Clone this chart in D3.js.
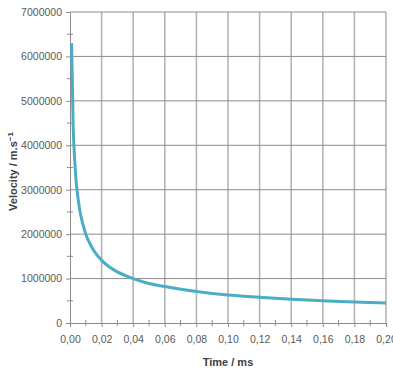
<!DOCTYPE html>
<html>
<head>
<meta charset="utf-8">
<script src="https://cdn.jsdelivr.net/npm/d3@7"></script>
<style>
body { margin: 0; background: #fff; }
#vis { width: 393px; height: 370px; }
text { font-family: "Liberation Sans", Arial, sans-serif; }
</style>
</head>
<body>
<div id="vis"></div>
<script>
var width = 393;
var height = 370;

var margin = {
    top: 12,
    bottom: 47,
    left: 70,
    right: 7
}

// time (ms) and velocity (m/s)
var time = [0.001, 0.002, 0.003, 0.004, 0.005, 0.006, 0.008, 0.010, 0.012, 0.015,
    0.020, 0.025, 0.030, 0.040, 0.050, 0.060, 0.080, 0.100, 0.120, 0.140, 0.160, 0.180, 0.200];
var velocity = [6300000, 4450000, 3650000, 3150000, 2830000, 2580000, 2240000, 2000000, 1830000, 1630000,
    1410000, 1260000, 1150000, 1000000, 890000, 820000, 710000, 630000, 580000, 535000, 500000, 470000, 450000];

var x_ticks = [0, 0.02, 0.04, 0.06, 0.08, 0.10, 0.12, 0.14, 0.16, 0.18, 0.20];
var y_ticks = [0, 1000000, 2000000, 3000000, 4000000, 5000000, 6000000, 7000000];

var svg = d3.select('#vis')
    .append('svg')
    .attr('width', width)
    .attr('height', height)
    .append('g')
    .attr('transform', 'translate(' + margin.left + ',' + margin.top + ')');

width = width - margin.left - margin.right;
height = height - margin.top - margin.bottom;

var x_scale = d3.scaleLinear()
    .domain([0, 0.2])
    .range([0, width]);

var y_scale = d3.scaleLinear()
    .domain([0, 7000000])
    .range([height, 0]);

// grid
svg.append('g')
    .selectAll('line')
    .data(x_ticks.slice(1))
    .enter()
    .append('line')
    .attr('x1', function (d) { return x_scale(d); })
    .attr('x2', function (d) { return x_scale(d); })
    .attr('y1', 0)
    .attr('y2', height)
    .attr('stroke', '#b4b4b4')
    .attr('stroke-width', 1.6);

svg.append('g')
    .selectAll('line')
    .data(y_ticks.slice(1))
    .enter()
    .append('line')
    .attr('x1', 0)
    .attr('x2', width)
    .attr('y1', function (d) { return y_scale(d); })
    .attr('y2', function (d) { return y_scale(d); })
    .attr('stroke', '#8c8c8c')
    .attr('stroke-width', 1);

// minor ticks crossing the axes
var x_minor = x_ticks.slice(0, -1).map(function (d) { return d + 0.01; });
var y_minor = y_ticks.slice(0, -1).map(function (d) { return d + 500000; });

svg.append('g')
    .selectAll('line')
    .data(x_minor)
    .enter()
    .append('line')
    .attr('x1', function (d) { return x_scale(d); })
    .attr('x2', function (d) { return x_scale(d); })
    .attr('y1', height - 3)
    .attr('y2', height + 3)
    .attr('stroke', '#8c8c8c');

svg.append('g')
    .selectAll('line')
    .data(y_minor)
    .enter()
    .append('line')
    .attr('x1', -3)
    .attr('x2', 3)
    .attr('y1', function (d) { return y_scale(d); })
    .attr('y2', function (d) { return y_scale(d); })
    .attr('stroke', '#8c8c8c');

var x_axis = d3.axisBottom(x_scale)
    .tickValues(x_ticks)
    .tickSize(4)
    .tickPadding(9)
    .tickFormat(function (d) { return d3.format('.2f')(d).replace('.', ','); });

var y_axis = d3.axisLeft(y_scale)
    .tickValues(y_ticks)
    .tickSize(4)
    .tickPadding(4)
    .tickFormat(d3.format('d'));

svg.append('g')
    .attr('class', 'x axis')
    .attr('transform', 'translate(0,' + height + ')')
    .call(x_axis);

svg.append('g')
    .attr('class', 'y axis')
    .call(y_axis);

svg.selectAll('.axis path, .axis line')
    .attr('stroke', '#8c8c8c');

svg.selectAll('.axis text')
    .attr('fill', '#595959')
    .style('font-size', '10.5px');

// line
var line = d3.line()
    .x(function (d, i) { return x_scale(time[i]); })
    .y(function (d) { return y_scale(d); })
    .curve(d3.curveMonotoneX);

svg.append('path')
    .datum(velocity)
    .attr('d', line)
    .attr('fill', 'none')
    .attr('stroke', '#4bacc6')
    .attr('stroke-width', 3);

// titles
svg.append('text')
    .attr('x', 158)
    .attr('y', height + 43)
    .attr('text-anchor', 'middle')
    .attr('fill', '#404040')
    .style('font-size', '11px')
    .style('font-weight', 'bold')
    .text('Time / ms');

var ylab = svg.append('text')
    .attr('transform', 'translate(-53,' + (y_scale(3500000) + 4) + ') rotate(-90)')
    .attr('text-anchor', 'middle')
    .attr('fill', '#404040')
    .style('font-size', '11px')
    .style('font-weight', 'bold');

ylab.append('tspan').text('Velocity / m.s');
ylab.append('tspan')
    .attr('dy', -4)
    .style('font-size', '8px')
    .text('\u22121');
</script>
</body>
</html>
